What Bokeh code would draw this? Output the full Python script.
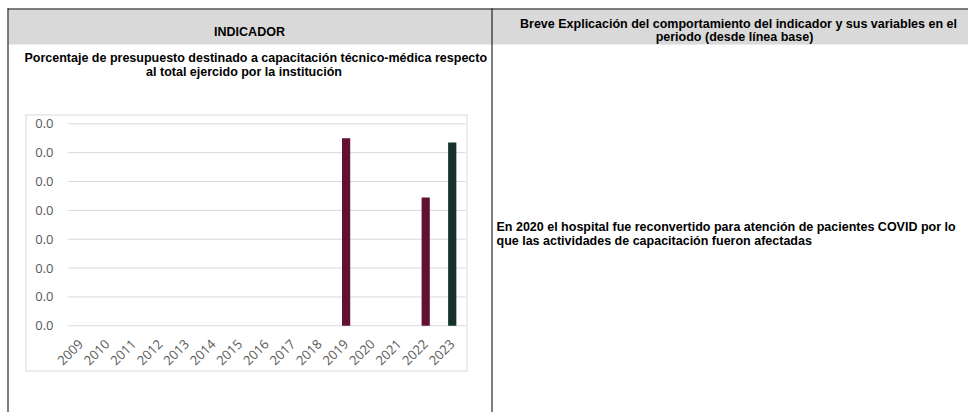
from math import pi
from bokeh.plotting import figure
from bokeh.models import (Range1d, FixedTicker, NumeralTickFormatter, ColumnDataSource,
                          LinearAxis)
from bokeh.core.properties import value
from bokeh.embed import file_html
from bokeh.resources import INLINE

# ---------------- data ----------------
years = ["2009", "2010", "2011", "2012", "2013", "2014", "2015", "2016",
         "2017", "2018", "2019", "2020", "2021", "2022", "2023"]
values = [0, 0, 0, 0, 0, 0, 0, 0, 0, 0, 0.0065, 0, 0, 0.00445, 0.00635]
bar_colors = ["#621132"] * 14 + ["#13322B"]
y_ticks = [0.0, 0.001, 0.002, 0.003, 0.004, 0.005, 0.006, 0.007]

header_left = "INDICADOR"
header_right = ["Breve Explicación del comportamiento del indicador y sus variables en el",
                "periodo (desde línea base)"]
indicator_title = ["Porcentaje de presupuesto destinado a capacitación técnico-médica  respecto",
                   "al total ejercido por la institución"]
explanation = ["En 2020 el hospital fue reconvertido para atención de pacientes COVID por lo",
               "que las actividades de capacitación fueron afectadas"]

# ---------------- page geometry (window pixels, y measured downwards) ----------------
PW, PH = 968, 412
PLOT_L, PLOT_R = 67, 465          # chart plot area, horizontal extent
PLOT_Y0, PLOT_YTOP = 325.3, 123.3  # window y of value 0 and of the top tick

QUADS = [  # left, right, top, bottom, colour
    (8, PW, 9, 44, "#d9d9d9"),          # header band
    (7, PW, 8, 9, "black"),             # top border
    (7, 8, 8, PH, "black"),             # left border
    (491, 492, 8, PH, "black"),         # column separator
    (25, 467, 114, 115, "#d9d9d9"),     # chart box: top
    (25, 467, 370, 371, "#d9d9d9"),     # chart box: bottom
    (25, 26, 114, 371, "#d9d9d9"),      # chart box: left
    (466, 467, 114, 371, "#d9d9d9"),    # chart box: right
]

TEXTS = [  # x, y (baseline), text, align
    (249, 31, header_left, "center"),
    (738, 23, header_right[0], "center"),
    (734, 36.5, header_right[1], "center"),
    (257, 57.5, indicator_title[0], "center"),
    (243.5, 71, indicator_title[1], "center"),
    (496, 226.5, explanation[0], "left"),
    (496, 240, explanation[1], "left"),
]

# ---------------- page figure (frame = whole page, data y = PH - window y) ----------------
p = figure(width=PW, height=PH, output_backend="svg", toolbar_location=None,
           x_range=Range1d(0, PW), y_range=Range1d(0, PH),
           x_axis_location=None, y_axis_location=None, min_border=0,
           outline_line_color=None, background_fill_color="white",
           border_fill_color="white")
p.grid.visible = False

for l, r, t, b, c in QUADS:
    p.quad(left=[l], right=[r], top=[PH - t], bottom=[PH - b], fill_color=c, line_color=None)
for x, y, s, a in TEXTS:
    p.text(x=[x], y=[PH - y], text=[s], text_align=a, text_baseline="alphabetic",
           text_font=value("Liberation Sans"), text_font_style="bold",
           text_font_size="12.5px", text_color="black")

# ---------------- chart scales placed on the plot area ----------------
year_nums = [int(y) for y in years]
x_lo, x_hi = year_nums[0] - 0.5, year_nums[-1] + 0.5
kx = (x_hi - x_lo) / (PLOT_R - PLOT_L)                      # units per pixel
ky = (y_ticks[-1] - y_ticks[0]) / (PLOT_Y0 - PLOT_YTOP)
p.extra_x_ranges = {"chart": Range1d(x_lo - PLOT_L * kx, x_hi + (PW - PLOT_R) * kx)}
p.extra_y_ranges = {"chart": Range1d(y_ticks[0] - (PH - PLOT_Y0) * ky,
                                     y_ticks[-1] + PLOT_YTOP * ky)}

# horizontal gridlines at the value ticks, across the plot area only
p.segment(x0=[x_lo] * len(y_ticks), x1=[x_hi] * len(y_ticks), y0=y_ticks, y1=y_ticks,
          line_color="#d9d9d9", line_width=1, x_range_name="chart", y_range_name="chart")

src = ColumnDataSource(dict(
    x=[n for n, v in zip(year_nums, values) if v > 0],
    top=[v for v in values if v > 0],
    color=[c for c, v in zip(bar_colors, values) if v > 0],
))
p.vbar(x="x", top="top", bottom=0, width=0.31, color="color", line_color=None,
       source=src, x_range_name="chart", y_range_name="chart")

ya = LinearAxis(x_range_name="chart", y_range_name="chart", fixed_location=x_lo,
                ticker=FixedTicker(ticks=y_ticks), formatter=NumeralTickFormatter(format="0.0"))
ya.axis_line_color = None
ya.major_tick_line_color = None
ya.minor_tick_line_color = None
ya.major_tick_out = 0
ya.major_tick_in = 0
ya.major_label_standoff = 14
ya.major_label_text_font = "Open Sans"
ya.major_label_text_font_size = "13px"
ya.major_label_text_color = "#595959"
p.add_layout(ya, "left")

xa = LinearAxis(x_range_name="chart", y_range_name="chart", fixed_location=y_ticks[0],
                ticker=FixedTicker(ticks=year_nums),
                major_label_overrides={n: s for n, s in zip(year_nums, years)})
xa.axis_line_color = None
xa.major_tick_line_color = None
xa.minor_tick_line_color = None
xa.major_tick_out = 0
xa.major_tick_in = 0
xa.major_label_orientation = pi / 4
xa.major_label_standoff = 16
xa.major_label_text_font = "Open Sans"
xa.major_label_text_font_size = "13px"
xa.major_label_text_color = "#595959"
p.add_layout(xa, "below")

open("out.html", "w").write(file_html(p, INLINE))
